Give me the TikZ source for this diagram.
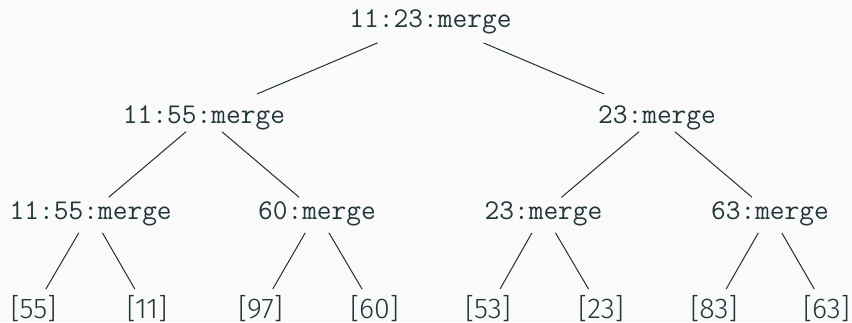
\documentclass[tikz,border=0pt]{standalone}
\usepackage{fontspec}
\newfontfamily\leaffont{Fira Sans Light}
\definecolor{ink}{HTML}{23373B}
\definecolor{paper}{HTML}{FAFAFA}
\begin{document}
\begin{tikzpicture}[x=0.5pt,y=-0.5pt,
  call/.style={inner sep=0pt, text=ink, text height=8.8pt, text depth=2.2pt,
    font=\ttfamily\fontsize{14.3pt}{17pt}\selectfont},
  leaf/.style={inner sep=0pt, text=ink, text height=9.8pt, text depth=2pt,
    font=\leaffont\fontsize{14.3pt}{17pt}\selectfont},
  link/.style={draw=ink!90!black, line width=0.5pt},
  toplink/.style={link, shorten <=28.8pt, shorten >=28.8pt},
  midlink/.style={link, shorten <=11.75pt, shorten >=11.75pt},
  lowlink/.style={link, shorten <=11.75pt, shorten >=12.2pt}]
  \fill[paper] (0,0) rectangle (852,322);
  \useasboundingbox (0,0) rectangle (852,322);

  % merge calls
  \node[call] (root) at (430.5,20.4) {11:23:merge};
  \node[call] (l)    at (204,116.5)  {11:55:merge};
  \node[call] (r)    at (657,116.5)  {23:merge};
  \node[call] (ll)   at (90.7,212.5) {11:55:merge};
  \node[call] (lr)   at (317,212.5)  {60:merge};
  \node[call] (rl)   at (543.5,212.5) {23:merge};
  \node[call] (rr)   at (770,212.5)  {63:merge};

  % single-element lists
  \node[leaf] (a1) at (33.5,310.2)  {[55]};
  \node[leaf] (a2) at (147,310.2)   {[11]};
  \node[leaf] (a3) at (260.5,310.2) {[97]};
  \node[leaf] (a4) at (374.5,310.2) {[60]};
  \node[leaf] (a5) at (488,310.2)   {[53]};
  \node[leaf] (a6) at (601,310.2)   {[23]};
  \node[leaf] (a7) at (714,310.2)   {[83]};
  \node[leaf] (a8) at (826.5,310.2) {[63]};

  % edges
  \draw[toplink] (root.center) -- (l.center);
  \draw[toplink] (root.center) -- (r.center);
  \draw[midlink] (l.center) -- (ll.center);
  \draw[midlink] (l.center) -- (lr.center);
  \draw[midlink] (r.center) -- (rl.center);
  \draw[midlink] (r.center) -- (rr.center);
  \draw[lowlink] (ll.center) -- (a1.center);
  \draw[lowlink] (ll.center) -- (a2.center);
  \draw[lowlink] (lr.center) -- (a3.center);
  \draw[lowlink] (lr.center) -- (a4.center);
  \draw[lowlink] (rl.center) -- (a5.center);
  \draw[lowlink] (rl.center) -- (a6.center);
  \draw[lowlink] (rr.center) -- (a7.center);
  \draw[lowlink] (rr.center) -- (a8.center);
\end{tikzpicture}
\end{document}
